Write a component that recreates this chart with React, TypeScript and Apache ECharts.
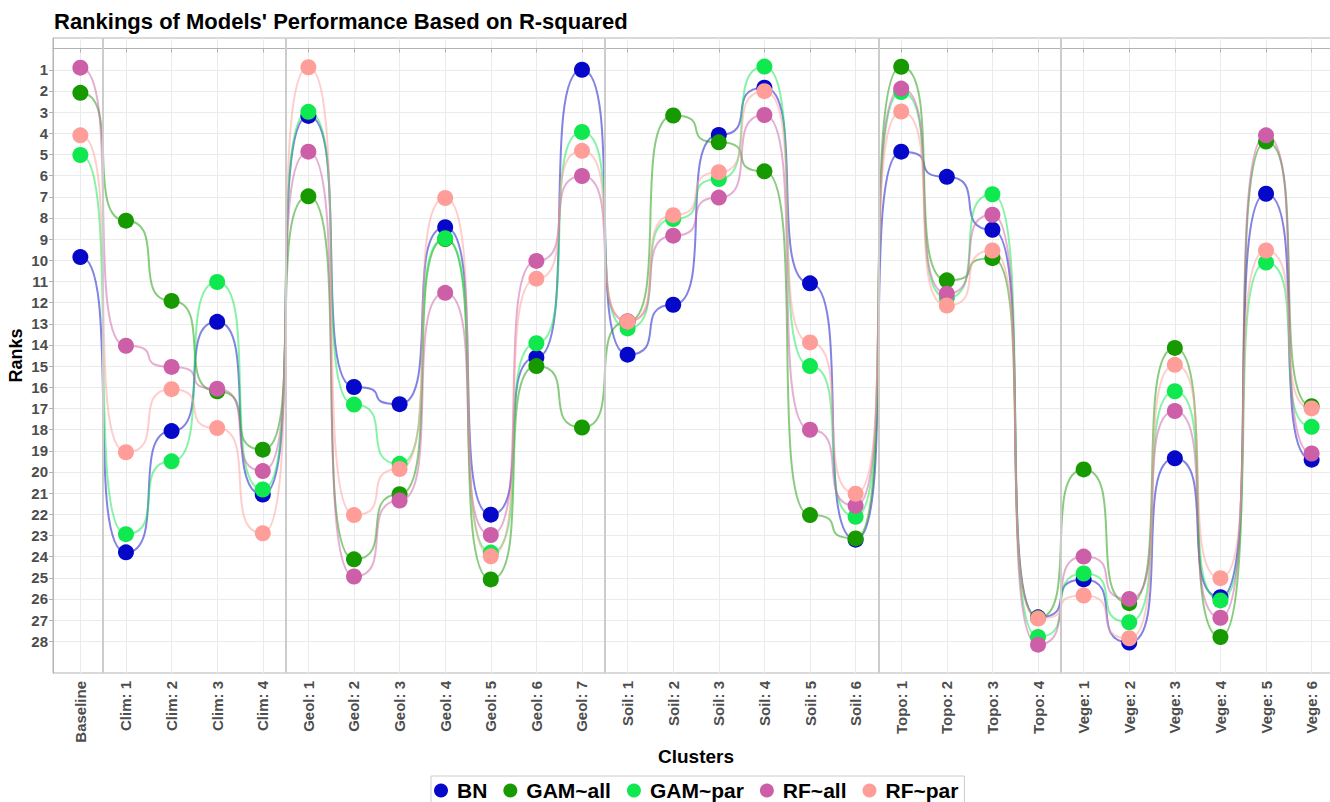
import { useEffect, useRef } from 'react';
import * as echarts from 'echarts';

const categories = [
  'Baseline',
  'Clim: 1', 'Clim: 2', 'Clim: 3', 'Clim: 4',
  'Geol: 1', 'Geol: 2', 'Geol: 3', 'Geol: 4', 'Geol: 5', 'Geol: 6', 'Geol: 7',
  'Soil: 1', 'Soil: 2', 'Soil: 3', 'Soil: 4', 'Soil: 5', 'Soil: 6',
  'Topo: 1', 'Topo: 2', 'Topo: 3', 'Topo: 4',
  'Vege: 1', 'Vege: 2', 'Vege: 3', 'Vege: 4', 'Vege: 5', 'Vege: 6',
];

const rankTicks = [1, 2, 3, 4, 5, 6, 7, 8, 9, 10, 11, 12, 13, 14, 15, 16, 17, 18, 19, 20, 21, 22, 23, 24, 25, 26, 27, 28];

const models = ['BN', 'GAM~all', 'GAM~par', 'RF~all', 'RF~par'];
const modelColors = ['#0508c8', '#169a00', '#0fe84e', '#cc5fa7', '#ff9e99'];

const bnRanks = [9.85, 23.8, 18.07, 12.91, 21.07, 3.18, 15.99, 16.8, 8.44, 22.02, 14.6, 1.0, 14.46, 12.1, 4.08, 1.85, 11.09, 23.2, 4.87, 6.06, 8.56, 26.87, 25.08, 28.06, 19.36, 25.92, 6.86, 19.42];
const gamAllRanks = [2.09, 8.13, 11.92, 16.19, 18.95, 6.98, 24.13, 21.05, 9.0, 25.08, 15.0, 17.9, 12.9, 3.16, 4.43, 5.8, 22.04, 23.14, 0.86, 10.95, 9.9, 26.9, 19.88, 26.2, 14.14, 27.8, 4.39, 16.9];
const gamParRanks = [5.03, 22.94, 19.5, 11.03, 20.83, 2.99, 16.82, 19.62, 8.96, 23.81, 13.92, 3.94, 13.22, 8.05, 6.16, 0.85, 15.0, 22.12, 2.05, 11.78, 6.88, 27.8, 24.8, 27.1, 16.19, 26.07, 10.11, 17.87];
const rfAllRanks = [0.9, 14.04, 15.04, 16.07, 19.96, 4.87, 24.94, 21.35, 11.54, 22.98, 10.03, 6.02, 12.88, 8.84, 7.04, 3.14, 18.01, 21.6, 1.89, 11.58, 7.85, 28.16, 24.0, 26.0, 17.12, 26.89, 4.1, 19.13];
const rfParRanks = [4.1, 19.07, 16.09, 17.93, 22.9, 0.88, 22.04, 19.86, 7.06, 23.99, 10.87, 4.83, 12.9, 7.87, 5.84, 2.01, 13.88, 21.03, 2.97, 12.14, 9.54, 26.93, 25.84, 27.86, 14.94, 25.02, 9.54, 17.0];

const modelValues = [bnRanks, gamAllRanks, gamParRanks, rfAllRanks, rfParRanks];

const FONT = '"Liberation Sans", Arial, Helvetica, sans-serif';
const SMOOTH = 0.9;

export default function App() {
  const ref = useRef<HTMLDivElement>(null);

  useEffect(() => {
    if (!ref.current) return;
    const chart = echarts.init(ref.current, undefined, { renderer: 'svg' });

    const xPositions = categories.map((_, i) => i + 1);
    const groupOf = (c: string) => c.split(':')[0];
    const separators: number[] = [];
    for (let i = 1; i < categories.length; i++) {
      if (groupOf(categories[i]) !== groupOf(categories[i - 1])) separators.push(i + 0.5);
    }

    const separatorSeries = {
      type: 'line',
      data: [],
      z: 1,
      silent: true,
      markLine: {
        silent: true,
        symbol: ['none', 'none'],
        label: { show: false },
        lineStyle: { color: '#cccccc', width: 2, type: 'solid' },
        data: separators.map((x) => ({ xAxis: x })),
      },
    };

    const curveSeries = models.map((m, k) => {
      const vals = modelValues[k];
      const segs = vals.slice(0, -1).map((v, i) => [i + 1, v, i + 2, vals[i + 1]]);
      const color = modelColors[k];
      return {
        type: 'custom',
        name: m,
        data: segs,
        encode: { x: [0, 2], y: [1, 3] },
        silent: true,
        z: 2,
        itemStyle: { color },
        renderItem: (_params: any, api: any) => {
          const p0 = api.coord([api.value(0), api.value(1)]);
          const p1 = api.coord([api.value(2), api.value(3)]);
          const dx = p1[0] - p0[0];
          return {
            type: 'bezierCurve',
            shape: {
              x1: p0[0],
              y1: p0[1],
              x2: p1[0],
              y2: p1[1],
              cpx1: p0[0] + SMOOTH * dx,
              cpy1: p0[1],
              cpx2: p1[0] - SMOOTH * dx,
              cpy2: p1[1],
            },
            style: { stroke: color, lineWidth: 2, fill: null, opacity: 0.5 },
          };
        },
      };
    });

    const pointSeries = models.map((m, k) => ({
      type: 'scatter',
      name: m,
      data: modelValues[k].map((v, i) => [i + 1, v]),
      symbol: 'circle',
      symbolSize: 16,
      z: 3,
      itemStyle: { color: modelColors[k], opacity: 1 },
    }));

    chart.setOption({
      animation: false,
      backgroundColor: '#ffffff',
      title: {
        text: "Rankings of Models' Performance Based on R-squared",
        left: 54,
        top: 10,
        padding: 0,
        textStyle: { fontFamily: FONT, fontSize: 22, fontWeight: 'bold', color: '#000000' },
      },
      legend: {
        data: models.map((m, k) => ({
          name: m,
          icon: 'circle',
          itemStyle: { color: modelColors[k] },
        })),
        left: 431,
        top: 776,
        orient: 'horizontal',
        itemWidth: 22,
        itemHeight: 14,
        itemGap: 16,
        padding: [4, 6, 8, 3],
        borderColor: '#cccccc',
        borderWidth: 1,
        backgroundColor: '#ffffff',
        selectedMode: false,
        textStyle: { fontFamily: FONT, fontSize: 21, fontWeight: 'bold', color: '#000000' },
      },
      grid: {
        left: 53,
        top: 38,
        width: 1286,
        height: 635,
        show: true,
        borderColor: '#b3b3b3',
        borderWidth: 1,
        backgroundColor: 'transparent',
        containLabel: false,
        outerBoundsMode: 'none',
      },
      xAxis: {
        type: 'value',
        min: 0.4,
        max: 28.6,
        name: 'Clusters',
        nameLocation: 'middle',
        nameGap: 74,
        nameMoveOverlap: false,
        nameTextStyle: { fontFamily: FONT, fontSize: 19, fontWeight: 'bold', color: '#000000' },
        axisLine: { show: true, lineStyle: { color: '#b3b3b3', width: 1 } },
        axisTick: { show: true, customValues: xPositions, length: 4, lineStyle: { color: '#b3b3b3' } },
        axisLabel: {
          customValues: xPositions,
          rotate: 90,
          margin: 8,
          fontFamily: FONT,
          fontSize: 15,
          fontWeight: 'bold',
          color: '#4d4d4d',
          formatter: (v: number) => categories[Math.round(v) - 1] ?? '',
        },
        splitLine: { show: true, lineStyle: { color: '#ebebeb', width: 1 } },
      },
      yAxis: {
        type: 'value',
        inverse: true,
        min: -0.5,
        max: 29.5,
        name: 'Ranks',
        nameLocation: 'middle',
        nameGap: 28,
        nameRotate: 90,
        nameMoveOverlap: false,
        nameTextStyle: { fontFamily: FONT, fontSize: 18, fontWeight: 'bold', color: '#000000' },
        axisLine: { show: true, lineStyle: { color: '#b3b3b3', width: 1 } },
        axisTick: { show: true, customValues: rankTicks, length: 4, lineStyle: { color: '#b3b3b3' } },
        axisLabel: {
          customValues: rankTicks,
          margin: 5,
          fontFamily: FONT,
          fontSize: 15,
          fontWeight: 'bold',
          color: '#4d4d4d',
        },
        splitLine: { show: true, lineStyle: { color: '#ebebeb', width: 1 } },
      },
      series: [separatorSeries, ...curveSeries, ...pointSeries],
    });

    return () => chart.dispose();
  }, []);

  return (
    <div
      ref={ref}
      style={{ position: 'absolute', left: 0, top: 0, width: 1330, height: 802, overflow: 'hidden' }}
    />
  );
}
